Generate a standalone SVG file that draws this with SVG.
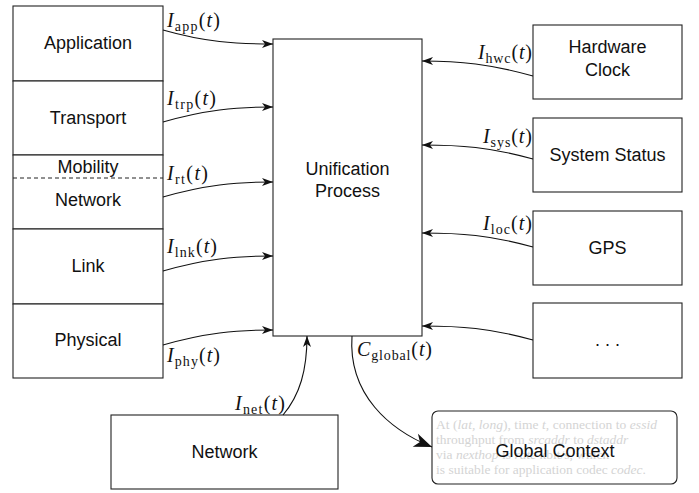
<svg xmlns="http://www.w3.org/2000/svg" width="699" height="493" viewBox="0 0 699 493">
<style>
.box{fill:#fff;stroke:#222;stroke-width:1.1}
.lbl{font-family:"Liberation Sans",Arial,sans-serif;font-size:18px;fill:#111;text-anchor:middle}
.m{font-family:"Liberation Serif","Times New Roman",serif;font-size:20px;fill:#111}
.mi{font-style:italic}
.sub{font-size:14px}
.con{fill:none;stroke:#111;stroke-width:1.1}
.faint{font-family:"Liberation Serif","Times New Roman",serif;font-size:13.5px;fill:#d4d4d4}
</style>
<defs>
<marker id="ah" markerUnits="userSpaceOnUse" markerWidth="14" markerHeight="10" viewBox="-12 -5 14 10" refX="0" refY="0" orient="auto">
<path d="M-11,-4 L0,0 L-11,4 L-8,0 Z" fill="#111"/>
</marker>
<marker id="ahb" markerUnits="userSpaceOnUse" markerWidth="22" markerHeight="16" viewBox="-20 -8 22 16" refX="0" refY="0" orient="auto">
<path d="M-18,-7 L0,0 L-18,7 L-13,0 Z" fill="#111"/>
</marker>
</defs>
<rect width="699" height="493" fill="#fff"/>

<g id="stack">
<g id="application"><rect class="box" x="13" y="6" width="150" height="75"/><text class="lbl" x="88" y="49">Application</text></g>
<g id="transport"><rect class="box" x="13" y="81" width="150" height="74"/><text class="lbl" x="88" y="124">Transport</text></g>
<g id="mobility-network"><rect class="box" x="13" y="155" width="150" height="74"/>
<line x1="13" y1="178" x2="163" y2="178" stroke="#222" stroke-width="1" stroke-dasharray="4,3"/>
<text class="lbl" x="88" y="173">Mobility</text><text class="lbl" x="88" y="206">Network</text></g>
<g id="link"><rect class="box" x="13" y="229" width="150" height="75"/><text class="lbl" x="88" y="272">Link</text></g>
<g id="physical"><rect class="box" x="13" y="304" width="150" height="74"/><text class="lbl" x="88" y="346">Physical</text></g>
</g>

<g id="unification"><rect class="box" x="273" y="39" width="149" height="297"/>
<text class="lbl" x="347.5" y="175">Unification</text><text class="lbl" x="347.5" y="197">Process</text></g>

<g id="hwclock"><rect class="box" x="533" y="25" width="149" height="74"/>
<text class="lbl" x="607.5" y="53">Hardware</text><text class="lbl" x="607.5" y="76">Clock</text></g>
<g id="sysstatus"><rect class="box" x="533" y="118" width="149" height="74"/><text class="lbl" x="607.5" y="161">System Status</text></g>
<g id="gps"><rect class="box" x="533" y="211" width="149" height="74"/><text class="lbl" x="607.5" y="254">GPS</text></g>
<g id="more"><rect class="box" x="533" y="303" width="149" height="75"/><text class="lbl" x="607.5" y="346">. . .</text></g>

<g id="network"><rect class="box" x="111" y="415" width="227" height="74"/><text class="lbl" x="224.5" y="458">Network</text></g>

<g id="global-context"><rect class="box" x="432" y="411" width="245" height="73" rx="6" ry="6"/>
<text class="faint" x="436" y="429" textLength="221"><tspan>At (</tspan><tspan font-style="italic">lat, long</tspan><tspan>), time </tspan><tspan font-style="italic">t</tspan><tspan>, connection to </tspan><tspan font-style="italic">essid</tspan></text>
<text class="faint" x="436" y="444"><tspan>throughput from </tspan><tspan font-style="italic">srcaddr</tspan><tspan> to </tspan><tspan font-style="italic">dstaddr</tspan></text>
<text class="faint" x="436" y="459"><tspan>via </tspan><tspan font-style="italic">nexthop</tspan><tspan> is </tspan><tspan font-style="italic">rate</tspan><tspan> kbit/s, which</tspan></text>
<text class="faint" x="436" y="474"><tspan>is suitable for application codec </tspan><tspan font-style="italic">codec</tspan><tspan>.</tspan></text>
<text class="lbl" x="555" y="457">Global Context</text></g>

<g id="connectors">
<path class="con" d="M163,30 C205,42 235,44 273,44" marker-end="url(#ah)"/>
<path class="con" d="M163,122 C205,110 235,107 273,107" marker-end="url(#ah)"/>
<path class="con" d="M163,197 C205,185 235,182 273,182" marker-end="url(#ah)"/>
<path class="con" d="M163,271 C205,259 235,256 273,256" marker-end="url(#ah)"/>
<path class="con" d="M163,345 C205,333 235,330 273,330" marker-end="url(#ah)"/>
<path class="con" d="M533,76 C490,64 460,61 422,61" marker-end="url(#ah)"/>
<path class="con" d="M533,159 C490,147 460,145 422,145" marker-end="url(#ah)"/>
<path class="con" d="M533,247 C490,235 460,233 422,233" marker-end="url(#ah)"/>
<path class="con" d="M533,340 C490,328 460,326 422,326" marker-end="url(#ah)"/>
<path class="con" d="M283,415 C300,395 307,370 307,336" marker-end="url(#ah)"/>
<path class="con" d="M352,336 C348,395 390,430 432,447" marker-end="url(#ahb)"/>

<text class="m" x="167" y="27" textLength="53"><tspan class="mi">I</tspan><tspan class="sub" dy="4">app</tspan><tspan dy="-4">(</tspan><tspan class="mi">t</tspan><tspan>)</tspan></text>
<text class="m" x="167" y="105" textLength="49"><tspan class="mi">I</tspan><tspan class="sub" dy="4">trp</tspan><tspan dy="-4">(</tspan><tspan class="mi">t</tspan><tspan>)</tspan></text>
<text class="m" x="167" y="180" textLength="41"><tspan class="mi">I</tspan><tspan class="sub" dy="4">rt</tspan><tspan dy="-4">(</tspan><tspan class="mi">t</tspan><tspan>)</tspan></text>
<text class="m" x="167" y="253" textLength="50"><tspan class="mi">I</tspan><tspan class="sub" dy="4">lnk</tspan><tspan dy="-4">(</tspan><tspan class="mi">t</tspan><tspan>)</tspan></text>
<text class="m" x="167" y="362" textLength="53"><tspan class="mi">I</tspan><tspan class="sub" dy="4">phy</tspan><tspan dy="-4">(</tspan><tspan class="mi">t</tspan><tspan>)</tspan></text>
<text class="m" x="478" y="59" textLength="54"><tspan class="mi">I</tspan><tspan class="sub" dy="4">hwc</tspan><tspan dy="-4">(</tspan><tspan class="mi">t</tspan><tspan>)</tspan></text>
<text class="m" x="483" y="143" textLength="49"><tspan class="mi">I</tspan><tspan class="sub" dy="4">sys</tspan><tspan dy="-4">(</tspan><tspan class="mi">t</tspan><tspan>)</tspan></text>
<text class="m" x="483" y="230" textLength="49"><tspan class="mi">I</tspan><tspan class="sub" dy="4">loc</tspan><tspan dy="-4">(</tspan><tspan class="mi">t</tspan><tspan>)</tspan></text>
<text class="m" x="235" y="410" textLength="50"><tspan class="mi">I</tspan><tspan class="sub" dy="4">net</tspan><tspan dy="-4">(</tspan><tspan class="mi">t</tspan><tspan>)</tspan></text>
<text class="m" x="357" y="356" textLength="75"><tspan class="mi">C</tspan><tspan class="sub" dy="4">global</tspan><tspan dy="-4">(</tspan><tspan class="mi">t</tspan><tspan>)</tspan></text>
</g>
</svg>
